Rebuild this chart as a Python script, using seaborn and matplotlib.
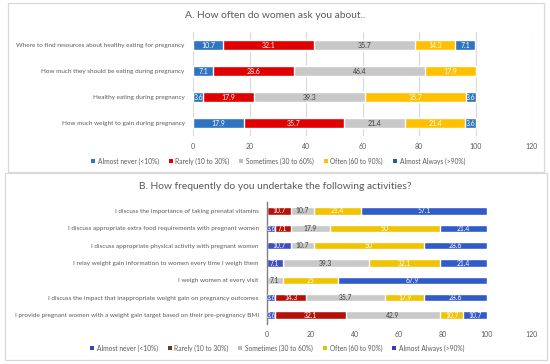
import matplotlib
matplotlib.use("Agg")
import matplotlib.pyplot as plt
import seaborn as sns
import numpy as np
import pandas as pd
from matplotlib.patches import Rectangle, Patch

sns.set_style("white")
plt.rcParams['font.family'] = ['Lato', 'DejaVu Sans']

levels = ["Almost never (<10%)", "Rarely (10 to 30%)", "Sometimes (30 to 60%)",
          "Often (60 to 90%)", "Almost Always (>90%)"]

# Panel A
a_title = "A. How often do women ask you about.."
a_cats = ["Where to find resources about healthy eating for pregnancy",
          "How much they should be eating during pregnancy",
          "Healthy eating during pregnancy",
          "How much weight to gain during pregnancy"]
a_never = [10.7, 7.1, 3.6, 17.9]
a_rarely = [32.1, 28.6, 17.9, 35.7]
a_sometimes = [35.7, 46.4, 39.3, 21.4]
a_often = [14.3, 17.9, 35.7, 21.4]
a_always = [7.1, 0, 3.6, 3.6]

# Panel B
b_title = "B. How frequently do you undertake the following activities?"
b_cats = ["I discuss the importance of taking prenatal vitamins",
          "I discuss appropriate extra food requirements with pregnant women",
          "I discuss appropriate physical activity with pregnant women",
          "I relay weight gain information to women every time I weigh them",
          "I weigh women at every visit",
          "I discuss the impact that inappropriate weight gain on pregnancy outcomes",
          "I provide pregnant women with a weight gain target based on their pre-pregnancy BMI"]
b_never = [0, 3.6, 10.7, 7.1, 0, 3.6, 3.6]
b_rarely = [10.7, 7.1, 0, 0, 0, 14.3, 32.1]
b_sometimes = [10.7, 17.9, 10.7, 39.3, 7.1, 35.7, 42.9]
b_often = [21.4, 50, 50, 32.1, 25, 17.9, 10.7]
b_always = [57.1, 21.4, 28.6, 21.4, 67.9, 28.6, 10.7]

ticks = [0, 20, 40, 60, 80, 100, 120]

a_colors = ["#2E74C0", "#E00000", "#C8C8C8", "#FFC000", "#2E74C0"]
a_legend_colors = ["#2E74C0", "#E00000", "#BFBFBF", "#FFC000", "#1F5FA8"]
b_colors = ["#3F4EC6", "#B41208", "#C9C9C9", "#F0C400", "#2F5CC8"]
b_legend_colors = ["#4444B8", "#6E3B0E", "#BDBDBD", "#C5D200", "#3B3BB0"]
lab_colors = ["white", "white", "#404040", "white", "white"]

W, H = 550, 364
fig = plt.figure(figsize=(5.5, 3.64), dpi=100)
fig.patch.set_facecolor("white")

def fx(px):
    return px / W

def fy(py):
    return 1 - py / H

# frames
fig.patches.append(Rectangle((fx(8), fy(172)), fx(544) - fx(8), fy(3) - fy(172),
                             transform=fig.transFigure, fill=False, ec="#D9D9D9", lw=0.9))
fig.patches.append(Rectangle((fx(5), fy(360)), fx(547) - fx(5), fy(173) - fy(360),
                             transform=fig.transFigure, fill=False, ec="#D9D9D9", lw=0.9))

def draw_panel(ax, cats, series, colors, barw, grid, axisline, fs_lab, fs_tick, fs_cat):
    df = pd.DataFrame({"cat": cats})
    arr = np.array(series)
    cum = np.cumsum(arr, axis=0)
    for k in range(len(series) - 1, -1, -1):
        df["v"] = cum[k]
        sns.barplot(data=df, x="v", y="cat", orient="h", color=colors[k], saturation=1,
                    width=barw, ax=ax, errorbar=None, zorder=2)
    for k in range(len(series)):
        for i in range(len(cats)):
            v = arr[k, i]
            if v <= 0:
                continue
            ax.text(cum[k, i] - v / 2, i, f"{v:g}", ha="center", va="center",
                    color=lab_colors[k], fontsize=fs_lab, zorder=3)
    ax.set_xlim(0, 120)
    ax.set_ylim(len(cats) - 0.5, -0.5)
    ax.set_xticks(ticks)
    ax.set_xticklabels([str(t) for t in ticks])
    ax.set_xlabel("")
    ax.set_ylabel("")
    for s in ax.spines.values():
        s.set_visible(False)
    if axisline:
        ax.spines["left"].set_visible(True)
        ax.spines["left"].set_color("#7F7F7F")
        ax.spines["left"].set_linewidth(1.0)
    if grid:
        ax.grid(axis="x", color="#D9D9D9", lw=0.8, zorder=0)
        ax.set_axisbelow(True)
    ax.tick_params(axis="both", length=0, colors="#595959")
    ax.tick_params(axis="x", pad=5, labelsize=fs_tick)
    ax.tick_params(axis="y", pad=6, labelsize=fs_cat)
    ax.set_facecolor("none")

axA = fig.add_axes([fx(193), fy(136), fx(532) - fx(193), fy(32) - fy(136)])
draw_panel(axA, a_cats, [a_never, a_rarely, a_sometimes, a_often, a_always],
           a_colors, 0.4, True, False, 5.0, 5.0, 4.6)
fig.text(fx(275), fy(16), a_title, ha="center", va="center", fontsize=7.4, color="#595959")
handlesA = [Patch(facecolor=c, edgecolor="none") for c in a_legend_colors]
fig.legend(handlesA, levels, loc="center", bbox_to_anchor=(fx(278), fy(161)), ncol=5,
           frameon=False, fontsize=4.8, handlelength=0.6, handleheight=0.6,
           handletextpad=0.4, columnspacing=1.5, labelcolor="#595959")

axB = fig.add_axes([fx(267), fy(323.7), fx(531) - fx(267), fy(202.3) - fy(323.7)])
draw_panel(axB, b_cats, [b_never, b_rarely, b_sometimes, b_often, b_always],
           b_colors, 0.42, False, True, 4.9, 5.0, 4.6)
fig.text(fx(275), fy(187), b_title, ha="center", va="center", fontsize=7.4, color="#595959")
handlesB = [Patch(facecolor=c, edgecolor="none") for c in b_legend_colors]
fig.legend(handlesB, levels, loc="center", bbox_to_anchor=(fx(277), fy(348)), ncol=5,
           frameon=False, fontsize=4.8, handlelength=0.6, handleheight=0.6,
           handletextpad=0.4, columnspacing=1.5, labelcolor="#595959")

fig.savefig("out.png", dpi=100, facecolor="white")
